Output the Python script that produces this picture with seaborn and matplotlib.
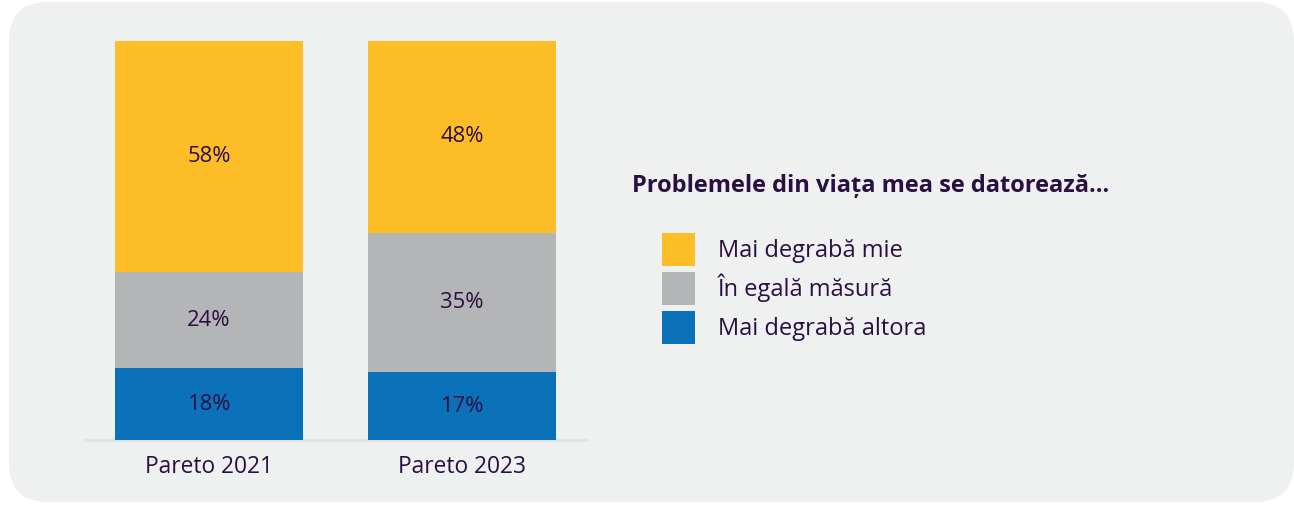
import matplotlib.pyplot as plt
import seaborn as sns
import pandas as pd
import numpy as np
from matplotlib.patches import FancyBboxPatch, Patch

# data
surveys = ["Pareto 2021", "Pareto 2023"]
series = ["Mai degrabă mie", "În egală măsură", "Mai degrabă altora"]
mie = [58, 48]
egal = [24, 35]
altora = [18, 17]
legend_title = "Problemele din viața mea se datorează..."

colors = {"Mai degrabă mie": "#fdbd27",
          "În egală măsură": "#b3b5b6",
          "Mai degrabă altora": "#0b72b9"}
text_col = "#2a0f42"
bg_col = "#eff0f0"

sns.set_theme(style="white")
plt.rcParams["font.family"] = ["Open Sans", "DejaVu Sans"]

W, H = 1294, 508
fig = plt.figure(figsize=(W / 100, H / 100), dpi=100, facecolor="white")

# rounded panel behind everything
panel = FancyBboxPatch((9 / W, 6 / H), (1294 - 9) / W, (506 - 6) / H,
                       boxstyle="round,pad=0,rounding_size=0.03",
                       transform=fig.transFigure, facecolor=bg_col,
                       edgecolor="none", mutation_aspect=W / H, zorder=-5)
fig.patches.append(panel)

ax = fig.add_axes([85 / W, (H - 440) / H, (587 - 85) / W, (440 - 41) / H])
ax.set_facecolor("none")
ax.set_zorder(1)

df = pd.DataFrame({"survey": surveys, "mie": mie, "egal": egal, "altora": altora})
df["top"] = df["mie"] + df["egal"] + df["altora"]
df["mid"] = df["egal"] + df["altora"]

# stacked by overlaying cumulative heights
bar_kw = dict(width=0.743, saturation=1, ax=ax, edgecolor="none", linewidth=0)
sns.barplot(data=df, x="survey", y="top", color=colors[series[0]], zorder=2, **bar_kw)
sns.barplot(data=df, x="survey", y="mid", color=colors[series[1]], zorder=3, **bar_kw)
sns.barplot(data=df, x="survey", y="altora", color=colors[series[2]], zorder=4, **bar_kw)

for i in range(len(surveys)):
    segs = [(0, altora[i]), (altora[i], egal[i]), (altora[i] + egal[i], mie[i])]
    for base, v in segs:
        ax.text(i, base + v / 2, f"{v}%", ha="center", va="center",
                fontsize=15.8, color=text_col, zorder=5)

ax.set_xlim(-0.49, 1.494)
ax.set_ylim(0, 100)
ax.set_xlabel("")
ax.set_ylabel("")
ax.set_yticks([])
ax.tick_params(axis="x", length=0, pad=11, labelsize=16.4, labelcolor=text_col)
sns.despine(ax=ax, left=True)
ax.spines["bottom"].set_color("#e2e3e3")
ax.spines["bottom"].set_linewidth(2)
ax.spines["bottom"].set_zorder(1)

fig.text(632 / W, (H - 192) / H, legend_title, fontsize=17, fontweight="bold",
         color=text_col, ha="left", va="baseline")

handles = [Patch(facecolor=colors[s], edgecolor="none") for s in series]
fig.legend(handles, series, loc="upper left",
           bbox_to_anchor=(662 / W, (H - 233) / H), frameon=False,
           fontsize=17, handlelength=1.4, handleheight=1.775,
           handletextpad=0.97, labelspacing=0.25, borderpad=0,
           borderaxespad=0, labelcolor=text_col)

fig.savefig("out.png", dpi=100, facecolor="white")
